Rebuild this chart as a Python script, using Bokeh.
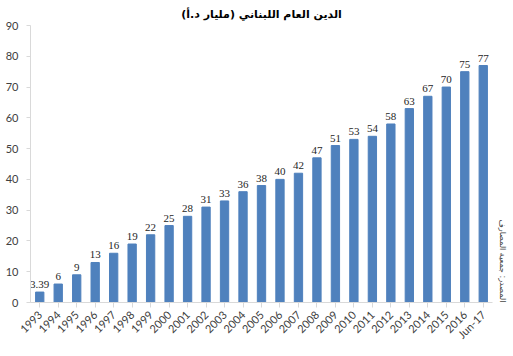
import math
from bokeh.plotting import figure
from bokeh.models import ColumnDataSource, Title, Range1d
from bokeh.embed import file_html
from bokeh.resources import INLINE

years = ["1993", "1994", "1995", "1996", "1997", "1998", "1999", "2000", "2001",
         "2002", "2003", "2004", "2005", "2006", "2007", "2008", "2009", "2010",
         "2011", "2012", "2013", "2014", "2015", "2016", "Jun-17"]
debt = [3.39, 6, 9, 13, 16, 19, 22, 25, 28, 31, 33, 36, 38, 40, 42, 47, 51, 53,
        54, 58, 63, 67, 70, 75, 77]
labels = ["3.39"] + [str(int(v)) for v in debt[1:]]

title_text = "الدين العام اللبناني (مليار د.أ)"
source_text = "المصدر: جمعية المصارف"

src = ColumnDataSource(dict(x=years, top=debt, lab=labels))

p = figure(width=513, height=356, x_range=years, y_range=Range1d(0, 90),
           output_backend="svg", toolbar_location=None,
           min_border_left=30, min_border_right=4, min_border_top=6, min_border_bottom=54)
p.title.text = title_text
p.title.align = "center"
p.title.text_font = "DejaVu Sans"
p.title.text_font_size = "11px"
p.title.text_font_style = "bold"
p.title.text_color = "#000000"

p.vbar(x="x", top="top", width=0.45, color="#4f81bd", source=src)
p.text(x="x", y="top", text="lab", source=src, text_align="center",
       text_baseline="bottom", y_offset=-4, text_font_size="11px",
       text_color="#262626", text_font="Lato")

p.yaxis.ticker = list(range(0, 91, 10))
for ax in (p.xaxis, p.yaxis):
    ax.axis_line_color = "#d9d9d9"
    ax.major_tick_line_color = "#d9d9d9"
    ax.minor_tick_line_color = None
    ax.major_label_text_font_size = "11px"
    ax.major_label_text_color = "#404040"
    ax.major_label_text_font = "Lato"
p.xaxis.major_label_orientation = math.pi / 4
p.xaxis.major_tick_in = 0
p.xaxis.major_tick_out = 5
p.yaxis.major_tick_in = 0
p.yaxis.major_tick_out = 4
p.yaxis.major_label_standoff = 8
p.xgrid.grid_line_color = None
p.ygrid.grid_line_color = None
p.outline_line_color = None
p.x_range.range_padding = 0.0

t = Title(text=source_text, align="right", text_font="DejaVu Sans",
          text_font_size="8px", text_font_style="normal", text_color="#404040")
p.add_layout(t, "right")

open("out.html", "w").write(file_html(p, INLINE))
